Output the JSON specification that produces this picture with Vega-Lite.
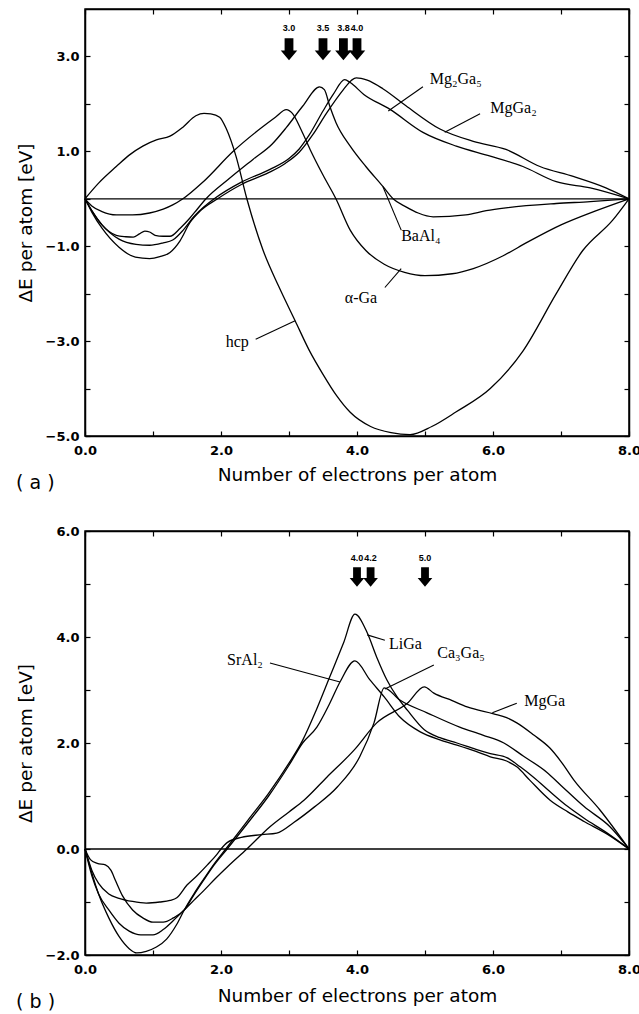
{
  "$schema": "https://vega.github.io/schema/vega-lite/v6.json",
  "padding": {"left": 15, "top": 7, "right": 0, "bottom": 0},
  "background": "white",
  "config": {
    "view": {"stroke": "black", "strokeWidth": 1.5},
    "axis": {
      "grid": false, "domainColor": "black", "domainWidth": 1.5, "tickColor": "black", "tickWidth": 1.2,
      "tickSize": -5, "labelColor": "black", "titleColor": "black",
      "labelFont": "DejaVu Sans", "labelFontSize": 13, "labelFontWeight": "bold",
      "titleFont": "DejaVu Sans", "titleFontSize": 18.5, "titleFontWeight": "normal",
      "labelFlush": false, "labelOverlap": false
    },
    "text": {"font": "Liberation Serif", "fontSize": 16, "color": "black"}
  },
  "datasets": {
    "curvesA": [
      {"s":"hcp","x":0,"y":0},{"s":"hcp","x":0.2,"y":0.33},{"s":"hcp","x":0.46,"y":0.68},{"s":"hcp","x":0.65,"y":0.92},{"s":"hcp","x":0.85,"y":1.11},{"s":"hcp","x":1.05,"y":1.24},{"s":"hcp","x":1.25,"y":1.32},{"s":"hcp","x":1.44,"y":1.51},{"s":"hcp","x":1.63,"y":1.75},{"s":"hcp","x":1.75,"y":1.8},{"s":"hcp","x":1.85,"y":1.79},{"s":"hcp","x":1.98,"y":1.72},{"s":"hcp","x":2.08,"y":1.47},{"s":"hcp","x":2.22,"y":0.9},{"s":"hcp","x":2.38,"y":0},{"s":"hcp","x":2.62,"y":-1.09},{"s":"hcp","x":2.85,"y":-1.85},{"s":"hcp","x":3.09,"y":-2.57},{"s":"hcp","x":3.3,"y":-3.2},{"s":"hcp","x":3.5,"y":-3.7},{"s":"hcp","x":3.7,"y":-4.15},{"s":"hcp","x":3.9,"y":-4.5},{"s":"hcp","x":4.2,"y":-4.8},{"s":"hcp","x":4.5,"y":-4.93},{"s":"hcp","x":4.78,"y":-4.97},{"s":"hcp","x":5.1,"y":-4.8},{"s":"hcp","x":5.46,"y":-4.49},{"s":"hcp","x":5.96,"y":-4.0},{"s":"hcp","x":6.44,"y":-3.21},{"s":"hcp","x":6.93,"y":-2.0},{"s":"hcp","x":7.32,"y":-1.09},{"s":"hcp","x":7.76,"y":-0.45},{"s":"hcp","x":8,"y":0},
      {"s":"aGa","x":0,"y":0},{"s":"aGa","x":0.1,"y":-0.15},{"s":"aGa","x":0.25,"y":-0.27},{"s":"aGa","x":0.46,"y":-0.34},{"s":"aGa","x":0.7,"y":-0.34},{"s":"aGa","x":0.95,"y":-0.3},{"s":"aGa","x":1.15,"y":-0.22},{"s":"aGa","x":1.29,"y":-0.13},{"s":"aGa","x":1.44,"y":0},{"s":"aGa","x":1.74,"y":0.36},{"s":"aGa","x":2.18,"y":1.0},{"s":"aGa","x":2.57,"y":1.47},{"s":"aGa","x":2.8,"y":1.72},{"s":"aGa","x":2.96,"y":1.88},{"s":"aGa","x":3.05,"y":1.8},{"s":"aGa","x":3.18,"y":1.45},{"s":"aGa","x":3.31,"y":1.04},{"s":"aGa","x":3.5,"y":0.5},{"s":"aGa","x":3.69,"y":0},{"s":"aGa","x":3.9,"y":-0.66},{"s":"aGa","x":4.13,"y":-1.09},{"s":"aGa","x":4.4,"y":-1.38},{"s":"aGa","x":4.7,"y":-1.55},{"s":"aGa","x":5.0,"y":-1.62},{"s":"aGa","x":5.4,"y":-1.58},{"s":"aGa","x":5.71,"y":-1.47},{"s":"aGa","x":6.15,"y":-1.2},{"s":"aGa","x":6.5,"y":-0.92},{"s":"aGa","x":7.0,"y":-0.55},{"s":"aGa","x":7.5,"y":-0.26},{"s":"aGa","x":8,"y":0},
      {"s":"BaAl4","x":0,"y":0},{"s":"BaAl4","x":0.1,"y":-0.25},{"s":"BaAl4","x":0.25,"y":-0.55},{"s":"BaAl4","x":0.46,"y":-0.77},{"s":"BaAl4","x":0.6,"y":-0.8},{"s":"BaAl4","x":0.71,"y":-0.81},{"s":"BaAl4","x":0.8,"y":-0.74},{"s":"BaAl4","x":0.88,"y":-0.68},{"s":"BaAl4","x":0.95,"y":-0.7},{"s":"BaAl4","x":1.03,"y":-0.77},{"s":"BaAl4","x":1.15,"y":-0.79},{"s":"BaAl4","x":1.25,"y":-0.79},{"s":"BaAl4","x":1.4,"y":-0.62},{"s":"BaAl4","x":1.54,"y":-0.41},{"s":"BaAl4","x":1.65,"y":-0.22},{"s":"BaAl4","x":1.78,"y":0},{"s":"BaAl4","x":2.1,"y":0.4},{"s":"BaAl4","x":2.47,"y":0.83},{"s":"BaAl4","x":2.75,"y":1.15},{"s":"BaAl4","x":2.96,"y":1.5},{"s":"BaAl4","x":3.2,"y":1.95},{"s":"BaAl4","x":3.45,"y":2.36},{"s":"BaAl4","x":3.52,"y":2.3},{"s":"BaAl4","x":3.6,"y":1.95},{"s":"BaAl4","x":3.69,"y":1.61},{"s":"BaAl4","x":3.9,"y":1.11},{"s":"BaAl4","x":4.13,"y":0.68},{"s":"BaAl4","x":4.38,"y":0.26},{"s":"BaAl4","x":4.53,"y":0},{"s":"BaAl4","x":4.72,"y":-0.17},{"s":"BaAl4","x":4.9,"y":-0.3},{"s":"BaAl4","x":5.12,"y":-0.38},{"s":"BaAl4","x":5.6,"y":-0.34},{"s":"BaAl4","x":5.9,"y":-0.25},{"s":"BaAl4","x":6.19,"y":-0.19},{"s":"BaAl4","x":6.93,"y":-0.1},{"s":"BaAl4","x":7.43,"y":-0.06},{"s":"BaAl4","x":8,"y":0},
      {"s":"Mg2Ga5","x":0,"y":0},{"s":"Mg2Ga5","x":0.1,"y":-0.25},{"s":"Mg2Ga5","x":0.25,"y":-0.55},{"s":"Mg2Ga5","x":0.5,"y":-0.85},{"s":"Mg2Ga5","x":0.75,"y":-0.96},{"s":"Mg2Ga5","x":0.95,"y":-0.98},{"s":"Mg2Ga5","x":1.15,"y":-0.93},{"s":"Mg2Ga5","x":1.29,"y":-0.87},{"s":"Mg2Ga5","x":1.45,"y":-0.65},{"s":"Mg2Ga5","x":1.6,"y":-0.38},{"s":"Mg2Ga5","x":1.75,"y":-0.17},{"s":"Mg2Ga5","x":1.9,"y":0},{"s":"Mg2Ga5","x":2.3,"y":0.35},{"s":"Mg2Ga5","x":2.72,"y":0.62},{"s":"Mg2Ga5","x":3.0,"y":0.85},{"s":"Mg2Ga5","x":3.15,"y":1.05},{"s":"Mg2Ga5","x":3.3,"y":1.35},{"s":"Mg2Ga5","x":3.5,"y":1.85},{"s":"Mg2Ga5","x":3.65,"y":2.2},{"s":"Mg2Ga5","x":3.82,"y":2.51},{"s":"Mg2Ga5","x":3.9,"y":2.45},{"s":"Mg2Ga5","x":4.1,"y":2.2},{"s":"Mg2Ga5","x":4.48,"y":1.89},{"s":"Mg2Ga5","x":4.97,"y":1.4},{"s":"Mg2Ga5","x":5.46,"y":1.11},{"s":"Mg2Ga5","x":5.96,"y":0.9},{"s":"Mg2Ga5","x":6.44,"y":0.68},{"s":"Mg2Ga5","x":6.93,"y":0.36},{"s":"Mg2Ga5","x":7.43,"y":0.23},{"s":"Mg2Ga5","x":8,"y":0},
      {"s":"MgGa2","x":0,"y":0},{"s":"MgGa2","x":0.1,"y":-0.28},{"s":"MgGa2","x":0.25,"y":-0.62},{"s":"MgGa2","x":0.5,"y":-1.02},{"s":"MgGa2","x":0.74,"y":-1.23},{"s":"MgGa2","x":0.95,"y":-1.26},{"s":"MgGa2","x":1.1,"y":-1.22},{"s":"MgGa2","x":1.25,"y":-1.13},{"s":"MgGa2","x":1.4,"y":-0.88},{"s":"MgGa2","x":1.54,"y":-0.51},{"s":"MgGa2","x":1.7,"y":-0.25},{"s":"MgGa2","x":1.95,"y":0},{"s":"MgGa2","x":2.3,"y":0.3},{"s":"MgGa2","x":2.7,"y":0.55},{"s":"MgGa2","x":2.95,"y":0.75},{"s":"MgGa2","x":3.15,"y":0.98},{"s":"MgGa2","x":3.35,"y":1.35},{"s":"MgGa2","x":3.55,"y":1.8},{"s":"MgGa2","x":3.8,"y":2.3},{"s":"MgGa2","x":3.92,"y":2.5},{"s":"MgGa2","x":3.99,"y":2.55},{"s":"MgGa2","x":4.15,"y":2.5},{"s":"MgGa2","x":4.38,"y":2.32},{"s":"MgGa2","x":4.72,"y":1.96},{"s":"MgGa2","x":5.22,"y":1.47},{"s":"MgGa2","x":5.71,"y":1.21},{"s":"MgGa2","x":6.19,"y":1.04},{"s":"MgGa2","x":6.69,"y":0.68},{"s":"MgGa2","x":7.18,"y":0.47},{"s":"MgGa2","x":7.66,"y":0.23},{"s":"MgGa2","x":8,"y":0}
    ],
    "curvesB": [
      {"s":"LiGa","x":0,"y":0},{"s":"LiGa","x":0.1,"y":-0.45},{"s":"LiGa","x":0.2,"y":-0.85},{"s":"LiGa","x":0.35,"y":-1.3},{"s":"LiGa","x":0.5,"y":-1.65},{"s":"LiGa","x":0.65,"y":-1.88},{"s":"LiGa","x":0.76,"y":-1.96},{"s":"LiGa","x":0.9,"y":-1.93},{"s":"LiGa","x":1.05,"y":-1.85},{"s":"LiGa","x":1.2,"y":-1.7},{"s":"LiGa","x":1.35,"y":-1.42},{"s":"LiGa","x":1.46,"y":-1.15},{"s":"LiGa","x":1.6,"y":-0.85},{"s":"LiGa","x":1.75,"y":-0.56},{"s":"LiGa","x":1.9,"y":-0.28},{"s":"LiGa","x":2.07,"y":0},{"s":"LiGa","x":2.4,"y":0.55},{"s":"LiGa","x":2.7,"y":1.05},{"s":"LiGa","x":3.0,"y":1.62},{"s":"LiGa","x":3.2,"y":2.05},{"s":"LiGa","x":3.4,"y":2.62},{"s":"LiGa","x":3.6,"y":3.25},{"s":"LiGa","x":3.8,"y":3.88},{"s":"LiGa","x":3.97,"y":4.43},{"s":"LiGa","x":4.15,"y":4.08},{"s":"LiGa","x":4.29,"y":3.62},{"s":"LiGa","x":4.44,"y":3.19},{"s":"LiGa","x":4.59,"y":2.87},{"s":"LiGa","x":4.74,"y":2.62},{"s":"LiGa","x":4.99,"y":2.25},{"s":"LiGa","x":5.22,"y":2.1},{"s":"LiGa","x":5.47,"y":2.0},{"s":"LiGa","x":5.75,"y":1.88},{"s":"LiGa","x":5.96,"y":1.8},{"s":"LiGa","x":6.21,"y":1.72},{"s":"LiGa","x":6.4,"y":1.55},{"s":"LiGa","x":6.6,"y":1.35},{"s":"LiGa","x":6.84,"y":1.08},{"s":"LiGa","x":7.1,"y":0.8},{"s":"LiGa","x":7.34,"y":0.58},{"s":"LiGa","x":7.68,"y":0.3},{"s":"LiGa","x":8,"y":0},
      {"s":"SrAl2","x":0,"y":0},{"s":"SrAl2","x":0.08,"y":-0.2},{"s":"SrAl2","x":0.18,"y":-0.27},{"s":"SrAl2","x":0.3,"y":-0.3},{"s":"SrAl2","x":0.38,"y":-0.4},{"s":"SrAl2","x":0.45,"y":-0.6},{"s":"SrAl2","x":0.55,"y":-0.88},{"s":"SrAl2","x":0.7,"y":-1.15},{"s":"SrAl2","x":0.85,"y":-1.3},{"s":"SrAl2","x":1.0,"y":-1.38},{"s":"SrAl2","x":1.15,"y":-1.38},{"s":"SrAl2","x":1.3,"y":-1.3},{"s":"SrAl2","x":1.46,"y":-1.15},{"s":"SrAl2","x":1.6,"y":-0.87},{"s":"SrAl2","x":1.75,"y":-0.58},{"s":"SrAl2","x":1.9,"y":-0.3},{"s":"SrAl2","x":2.09,"y":0},{"s":"SrAl2","x":2.4,"y":0.5},{"s":"SrAl2","x":2.7,"y":1.0},{"s":"SrAl2","x":3.0,"y":1.58},{"s":"SrAl2","x":3.2,"y":2.0},{"s":"SrAl2","x":3.41,"y":2.3},{"s":"SrAl2","x":3.6,"y":2.75},{"s":"SrAl2","x":3.75,"y":3.15},{"s":"SrAl2","x":3.97,"y":3.55},{"s":"SrAl2","x":4.19,"y":3.19},{"s":"SrAl2","x":4.4,"y":2.87},{"s":"SrAl2","x":4.63,"y":2.49},{"s":"SrAl2","x":4.93,"y":2.21},{"s":"SrAl2","x":5.22,"y":2.06},{"s":"SrAl2","x":5.47,"y":1.96},{"s":"SrAl2","x":5.75,"y":1.84},{"s":"SrAl2","x":5.96,"y":1.74},{"s":"SrAl2","x":6.2,"y":1.66},{"s":"SrAl2","x":6.35,"y":1.55},{"s":"SrAl2","x":6.54,"y":1.3},{"s":"SrAl2","x":6.84,"y":0.92},{"s":"SrAl2","x":7.1,"y":0.7},{"s":"SrAl2","x":7.34,"y":0.52},{"s":"SrAl2","x":7.68,"y":0.28},{"s":"SrAl2","x":8,"y":0},
      {"s":"Ca3Ga5","x":0,"y":0},{"s":"Ca3Ga5","x":0.1,"y":-0.4},{"s":"Ca3Ga5","x":0.2,"y":-0.65},{"s":"Ca3Ga5","x":0.35,"y":-0.85},{"s":"Ca3Ga5","x":0.5,"y":-0.93},{"s":"Ca3Ga5","x":0.7,"y":-0.99},{"s":"Ca3Ga5","x":0.9,"y":-1.02},{"s":"Ca3Ga5","x":1.1,"y":-1.0},{"s":"Ca3Ga5","x":1.25,"y":-0.97},{"s":"Ca3Ga5","x":1.35,"y":-0.92},{"s":"Ca3Ga5","x":1.5,"y":-0.68},{"s":"Ca3Ga5","x":1.65,"y":-0.5},{"s":"Ca3Ga5","x":1.8,"y":-0.3},{"s":"Ca3Ga5","x":1.94,"y":-0.1},{"s":"Ca3Ga5","x":2.0,"y":0},{"s":"Ca3Ga5","x":2.09,"y":0.12},{"s":"Ca3Ga5","x":2.3,"y":0.22},{"s":"Ca3Ga5","x":2.6,"y":0.27},{"s":"Ca3Ga5","x":2.82,"y":0.3},{"s":"Ca3Ga5","x":3.07,"y":0.5},{"s":"Ca3Ga5","x":3.37,"y":0.79},{"s":"Ca3Ga5","x":3.71,"y":1.17},{"s":"Ca3Ga5","x":4.04,"y":1.74},{"s":"Ca3Ga5","x":4.25,"y":2.38},{"s":"Ca3Ga5","x":4.4,"y":3.04},{"s":"Ca3Ga5","x":4.63,"y":2.81},{"s":"Ca3Ga5","x":5.03,"y":2.57},{"s":"Ca3Ga5","x":5.51,"y":2.3},{"s":"Ca3Ga5","x":5.85,"y":2.15},{"s":"Ca3Ga5","x":6.16,"y":2.0},{"s":"Ca3Ga5","x":6.45,"y":1.75},{"s":"Ca3Ga5","x":6.79,"y":1.45},{"s":"Ca3Ga5","x":7.0,"y":1.2},{"s":"Ca3Ga5","x":7.34,"y":0.8},{"s":"Ca3Ga5","x":7.72,"y":0.42},{"s":"Ca3Ga5","x":8,"y":0},
      {"s":"MgGa","x":0,"y":0},{"s":"MgGa","x":0.1,"y":-0.5},{"s":"MgGa","x":0.2,"y":-0.85},{"s":"MgGa","x":0.35,"y":-1.15},{"s":"MgGa","x":0.5,"y":-1.4},{"s":"MgGa","x":0.65,"y":-1.55},{"s":"MgGa","x":0.82,"y":-1.62},{"s":"MgGa","x":1.0,"y":-1.62},{"s":"MgGa","x":1.15,"y":-1.52},{"s":"MgGa","x":1.3,"y":-1.35},{"s":"MgGa","x":1.46,"y":-1.15},{"s":"MgGa","x":1.6,"y":-0.97},{"s":"MgGa","x":1.75,"y":-0.78},{"s":"MgGa","x":1.9,"y":-0.58},{"s":"MgGa","x":2.1,"y":-0.33},{"s":"MgGa","x":2.38,"y":0},{"s":"MgGa","x":2.72,"y":0.42},{"s":"MgGa","x":3.0,"y":0.7},{"s":"MgGa","x":3.22,"y":0.92},{"s":"MgGa","x":3.56,"y":1.36},{"s":"MgGa","x":3.96,"y":1.87},{"s":"MgGa","x":4.29,"y":2.38},{"s":"MgGa","x":4.74,"y":2.75},{"s":"MgGa","x":4.99,"y":3.06},{"s":"MgGa","x":5.13,"y":2.94},{"s":"MgGa","x":5.4,"y":2.8},{"s":"MgGa","x":5.62,"y":2.68},{"s":"MgGa","x":6.01,"y":2.55},{"s":"MgGa","x":6.2,"y":2.48},{"s":"MgGa","x":6.35,"y":2.38},{"s":"MgGa","x":6.6,"y":2.15},{"s":"MgGa","x":6.84,"y":1.9},{"s":"MgGa","x":7.0,"y":1.65},{"s":"MgGa","x":7.19,"y":1.3},{"s":"MgGa","x":7.57,"y":0.74},{"s":"MgGa","x":8,"y":0}
    ],
    "zero": [{"y": 0}],
    "leadersA": [
      {"x":4.97,"y":2.36,"x2":4.46,"y2":1.85},{"x":5.81,"y":1.79,"x2":5.29,"y2":1.40},{"x":4.65,"y":-0.66,"x2":4.38,"y2":0.26},{"x":4.41,"y":-1.87,"x2":4.65,"y2":-1.47},{"x":2.51,"y":-2.96,"x2":3.09,"y2":-2.57}
    ],
    "labelsA": [
      {"t":"Mg₂Ga₅","x":5.07,"y":2.53},{"t":"MgGa₂","x":5.96,"y":1.91},{"t":"BaAl₄","x":4.65,"y":-0.79},{"t":"α-Ga","x":3.82,"y":-2.1},{"t":"hcp","x":2.07,"y":-3.02}
    ],
    "arrowsA": [
      {"t":"3.0","x":3.0,"y":3.15,"ly":3.6},{"t":"3.5","x":3.5,"y":3.15,"ly":3.6},{"t":"3.8","x":3.8,"y":3.15,"ly":3.6},{"t":"4.0","x":4.0,"y":3.15,"ly":3.6}
    ],
    "leadersB": [
      {"x":4.41,"y":3.94,"x2":4.15,"y2":4.04},{"x":5.13,"y":3.47,"x2":4.41,"y2":3.02},{"x":6.35,"y":2.75,"x2":5.99,"y2":2.57},{"x":2.72,"y":3.51,"x2":3.75,"y2":3.15}
    ],
    "labelsB": [
      {"t":"LiGa","x":4.47,"y":3.87},{"t":"Ca₃Ga₅","x":5.18,"y":3.7},{"t":"MgGa","x":6.46,"y":2.79},{"t":"SrAl₂","x":2.09,"y":3.57}
    ],
    "arrowsB": [
      {"t":"4.0","x":4.0,"y":5.13,"ly":5.49},{"t":"4.2","x":4.2,"y":5.13,"ly":5.49},{"t":"5.0","x":5.0,"y":5.13,"ly":5.49}
    ]
  },
  "vconcat": [
    {
      "width": 544, "height": 427,
      "title": {"text": "( a )", "orient": "bottom", "anchor": "start", "frame": "bounds", "font": "DejaVu Sans", "fontSize": 19, "fontWeight": "normal", "color": "black", "offset": -10},
      "resolve": {"axis": {"x": "independent", "y": "independent"}},
      "layer": [
        {
          "data": {"name": "curvesA"},
          "mark": {"type": "line", "color": "black", "strokeWidth": 1.3, "interpolate": "monotone"},
          "encoding": {
            "x": {"field": "x", "type": "quantitative", "scale": {"domain": [0, 8], "nice": false, "zero": false},
                  "axis": {"orient": "bottom", "values": [0,1,2,3,4,5,6,7,8], "labelExpr": "datum.value % 2 == 0 ? format(datum.value, '.1f') : ''", "labelPadding": 13, "title": "Number of electrons per atom", "titlePadding": 8}},
            "y": {"field": "y", "type": "quantitative", "scale": {"domain": [-5, 4], "nice": false, "zero": false},
                  "axis": {"orient": "left", "values": [-5,-4,-3,-2,-1,0,1,2,3], "labelExpr": "abs(datum.value) % 2 == 1 ? format(datum.value, '.1f') : ''", "labelPadding": 11, "title": "ΔE per atom [eV]", "titlePadding": 10}},
            "detail": {"field": "s"}
          }
        },
        {
          "data": {"name": "zero"},
          "mark": {"type": "rule", "color": "black", "strokeWidth": 1.3},
          "encoding": {
            "y": {"field": "y", "type": "quantitative", "axis": {"orient": "right", "values": [-5,-4,-3,-2,-1,0,1,2,3], "labels": false, "title": null}}
          }
        },
        {
          "data": {"name": "leadersA"},
          "mark": {"type": "rule", "color": "black", "strokeWidth": 1.1},
          "encoding": {
            "x": {"field": "x", "type": "quantitative", "axis": {"orient": "top", "values": [0,1,2,3,4,5,6,7,8], "labels": false, "title": null}},
            "y": {"field": "y", "type": "quantitative", "axis": null},
            "x2": {"field": "x2"},
            "y2": {"field": "y2"}
          }
        },
        {
          "data": {"name": "labelsA"},
          "mark": {"type": "text", "align": "left", "baseline": "middle"},
          "encoding": {
            "x": {"field": "x", "type": "quantitative", "axis": null},
            "y": {"field": "y", "type": "quantitative", "axis": null},
            "text": {"field": "t"}
          }
        },
        {
          "data": {"name": "arrowsA"},
          "mark": {"type": "point", "shape": "M-0.4,-1L0.4,-1L0.4,0.1L0.75,0.1L0,1L-0.75,0.1L-0.4,0.1Z", "filled": true, "color": "black", "opacity": 1, "size": 484, "strokeWidth": 0},
          "encoding": {
            "x": {"field": "x", "type": "quantitative", "axis": null},
            "y": {"field": "y", "type": "quantitative", "axis": null}
          }
        },
        {
          "data": {"name": "arrowsA"},
          "mark": {"type": "text", "font": "Liberation Sans", "fontSize": 9, "fontWeight": "bold", "align": "center", "baseline": "middle"},
          "encoding": {
            "x": {"field": "x", "type": "quantitative", "axis": null},
            "y": {"field": "ly", "type": "quantitative", "axis": null},
            "text": {"field": "t"}
          }
        }
      ]
    },
    {
      "width": 544, "height": 424,
      "title": {"text": "( b )", "orient": "bottom", "anchor": "start", "frame": "bounds", "font": "DejaVu Sans", "fontSize": 19, "fontWeight": "normal", "color": "black", "offset": -12},
      "resolve": {"axis": {"x": "independent", "y": "independent"}},
      "layer": [
        {
          "data": {"name": "curvesB"},
          "mark": {"type": "line", "color": "black", "strokeWidth": 1.3, "interpolate": "monotone"},
          "encoding": {
            "x": {"field": "x", "type": "quantitative", "scale": {"domain": [0, 8], "nice": false, "zero": false},
                  "axis": {"orient": "bottom", "values": [0,1,2,3,4,5,6,7,8], "labelExpr": "datum.value % 2 == 0 ? format(datum.value, '.1f') : ''", "labelPadding": 13, "title": "Number of electrons per atom", "titlePadding": 10}},
            "y": {"field": "y", "type": "quantitative", "scale": {"domain": [-2, 6], "nice": false, "zero": false},
                  "axis": {"orient": "left", "values": [-2,-1,0,1,2,3,4,5,6], "labelExpr": "datum.value % 2 == 0 ? format(datum.value, '.1f') : ''", "labelPadding": 11, "title": "ΔE per atom [eV]", "titlePadding": 10}},
            "detail": {"field": "s"}
          }
        },
        {
          "data": {"name": "zero"},
          "mark": {"type": "rule", "color": "black", "strokeWidth": 1.3},
          "encoding": {
            "y": {"field": "y", "type": "quantitative", "axis": {"orient": "right", "values": [-2,-1,0,1,2,3,4,5,6], "labels": false, "title": null}}
          }
        },
        {
          "data": {"name": "leadersB"},
          "mark": {"type": "rule", "color": "black", "strokeWidth": 1.1},
          "encoding": {
            "x": {"field": "x", "type": "quantitative", "axis": {"orient": "top", "values": [0,1,2,3,4,5,6,7,8], "labels": false, "title": null}},
            "y": {"field": "y", "type": "quantitative", "axis": null},
            "x2": {"field": "x2"},
            "y2": {"field": "y2"}
          }
        },
        {
          "data": {"name": "labelsB"},
          "mark": {"type": "text", "align": "left", "baseline": "middle"},
          "encoding": {
            "x": {"field": "x", "type": "quantitative", "axis": null},
            "y": {"field": "y", "type": "quantitative", "axis": null},
            "text": {"field": "t"}
          }
        },
        {
          "data": {"name": "arrowsB"},
          "mark": {"type": "point", "shape": "M-0.4,-1L0.4,-1L0.4,0.1L0.75,0.1L0,1L-0.75,0.1L-0.4,0.1Z", "filled": true, "color": "black", "opacity": 1, "size": 380, "strokeWidth": 0},
          "encoding": {
            "x": {"field": "x", "type": "quantitative", "axis": null},
            "y": {"field": "y", "type": "quantitative", "axis": null}
          }
        },
        {
          "data": {"name": "arrowsB"},
          "mark": {"type": "text", "font": "Liberation Sans", "fontSize": 9, "fontWeight": "bold", "align": "center", "baseline": "middle"},
          "encoding": {
            "x": {"field": "x", "type": "quantitative", "axis": null},
            "y": {"field": "ly", "type": "quantitative", "axis": null},
            "text": {"field": "t"}
          }
        }
      ]
    }
  ],
  "spacing": 30
}
